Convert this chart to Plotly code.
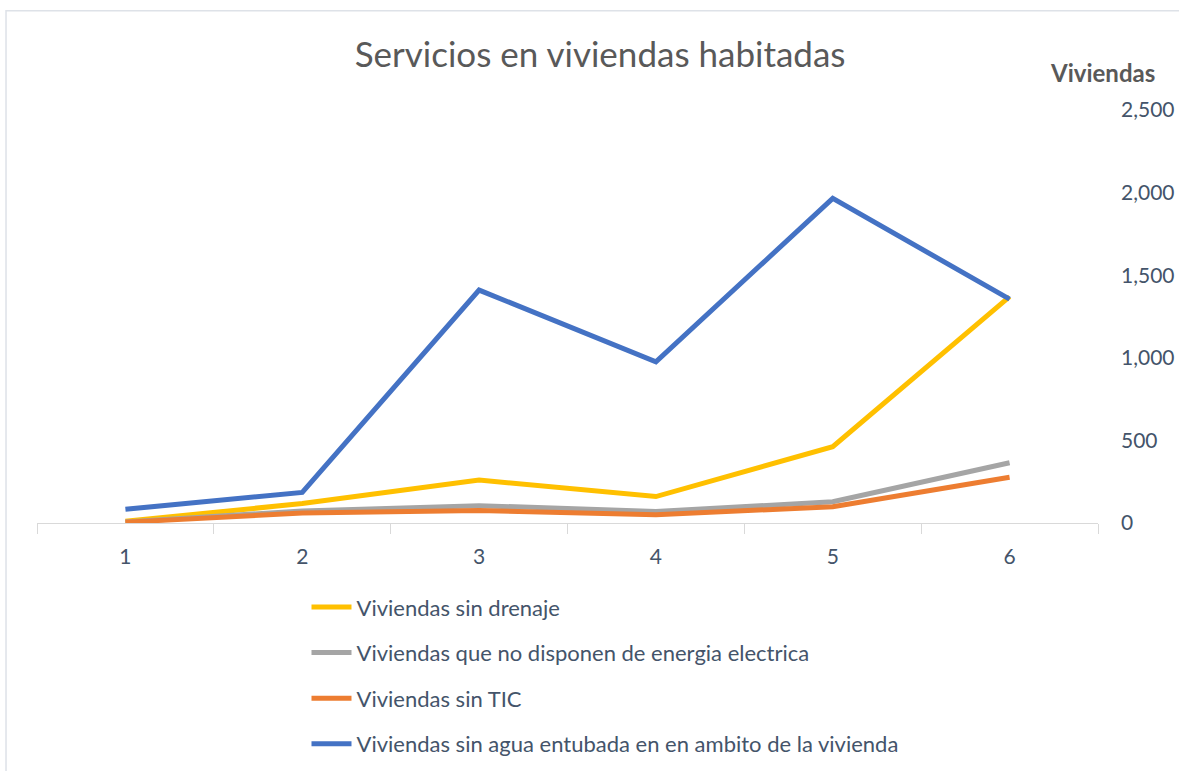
import plotly.graph_objects as go

categories = ["1", "2", "3", "4", "5", "6"]
sin_drenaje = [10, 118, 260, 160, 462, 1370]
sin_energia = [6, 73, 105, 69, 129, 365]
sin_tic = [5, 60, 75, 50, 99, 277]
sin_agua = [83, 185, 1410, 975, 1965, 1355]

series = [
    ("Viviendas sin drenaje", sin_drenaje, "#FFC000"),
    ("Viviendas que no disponen de energia electrica", sin_energia, "#A5A5A5"),
    ("Viviendas sin TIC", sin_tic, "#ED7D31"),
    ("Viviendas sin agua entubada en en ambito de la vivienda", sin_agua, "#4472C4"),
]

FONT = "Lato"
fig = go.Figure()
for i, (name, vals, color) in enumerate(series):
    fig.add_trace(go.Scatter(
        x=categories, y=vals, mode="lines", name=name,
        line=dict(color=color, width=5),
        legendgroup=f"g{i}",
    ))

fig.update_layout(
    width=1179, height=771,
    margin=dict(l=37, r=81, t=110, b=248, autoexpand=False),
    paper_bgcolor="white", plot_bgcolor="white",
    font=dict(family=FONT, color="#595959"),
    title=dict(text="Servicios en viviendas habitadas", x=0.509, xanchor="center",
               y=0.929, yanchor="middle", font=dict(size=35, color="#595959", family=FONT)),
    showlegend=True,
    legend=dict(x=0.254, xanchor="left", y=-0.153, yanchor="top",
                orientation="v", tracegroupgap=14,
                font=dict(size=22, color="#44546A", family=FONT),
                itemwidth=40),
    xaxis=dict(type="category", range=[-0.5, 5.5], tickson="boundaries",
               ticks="outside", ticklen=10, tickcolor="#D9D9D9",
               showline=True, linecolor="#D9D9D9", linewidth=1,
               showgrid=False, tickfont=dict(size=21, color="#44546A"),
               ticklabelstandoff=15),
    yaxis=dict(side="right", range=[0, 2500], dtick=500, tickformat=",",
               showgrid=False, zeroline=False, showline=False,
               tickfont=dict(size=21, color="#44546A"), ticklabelstandoff=22,
               minor=dict(dtick=1000, showgrid=True, gridcolor="#D9D9D9", gridwidth=1)),
    annotations=[dict(text="<b>Viviendas</b>", xref="paper", yref="paper",
                      x=0.953, y=1.092, xanchor="left", yanchor="middle", showarrow=False,
                      font=dict(size=24, color="#595959", family=FONT))],
    shapes=[dict(type="rect", xref="paper", yref="paper",
                 x0=-0.0292, x1=1.2, y0=-0.8, y1=1.2405,
                 line=dict(color="#DEE2E8", width=1.5), fillcolor="rgba(0,0,0,0)",
                 layer="below")],
)

fig.write_html("out.html", post_script="document.body.style.margin='0';",
               config={"displayModeBar": False})
